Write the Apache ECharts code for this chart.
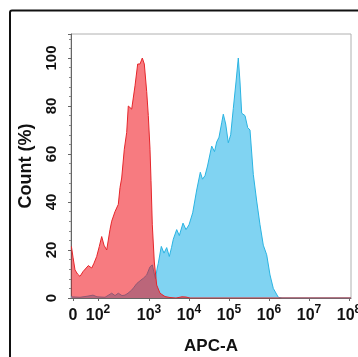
<!DOCTYPE html>
<html>
<head>
<meta charset="utf-8">
<style>
  html, body { margin: 0; padding: 0; background: #fff; }
  #chart { width: 358px; height: 357px; }
</style>
<script src="https://cdn.jsdelivr.net/npm/echarts@6/dist/echarts.min.js"></script>
</head>
<body>
<div id="chart"></div>
<script>
// x is in display units: decade positions (3 = 10^3 ... 8 = 10^8), low end is compressed
var xTickPos = [1.1, 1.725, 3, 4, 5, 6, 7, 8];
var xTickText = ['0', '10^2', '10^3', '10^4', '10^5', '10^6', '10^7', '10^8'];
var yTicks = [0, 20, 40, 60, 80, 100];

// control (red)
var ctrlX = [1.06, 1.10, 1.15, 1.2125, 1.275, 1.35, 1.40, 1.4825, 1.5675, 1.625, 1.6925, 1.7575, 1.8175, 1.875, 1.9425,
  2.025, 2.0675, 2.15, 2.2325, 2.275, 2.3175, 2.3825, 2.4425, 2.4825, 2.525, 2.5675, 2.65, 2.7175, 2.775, 2.8325,
  2.8825, 2.9425, 2.9825, 3.025, 3.05, 3.0825, 3.1325, 3.1925, 3.275, 3.40, 3.525, 3.675, 3.825, 3.925, 4.025, 8.05];
var ctrlY = [21.5, 17, 11.7, 10, 9, 11, 11.7, 13.5, 12.5, 14.5, 17.3, 21.5, 25.6, 22, 20,
  28.5, 32, 36, 39, 46, 50, 62, 69, 80, 80.7, 78.7, 88.4, 97.5, 97.5, 100,
  97.5, 86, 76, 62, 49, 30.5, 15, 5.4, 2, 0.6, 0.2, 0, 0.5, 0.4, 0, 0];

// stained sample (blue)
var sampX = [1.05, 1.275, 1.475, 1.60, 1.70, 1.90, 2.0675, 2.15, 2.2325, 2.325, 2.40, 2.475, 2.5675, 2.625, 2.6925,
  2.7375, 2.80, 2.8575, 2.9425, 3.025, 3.0825, 3.1325, 3.1625, 3.20, 3.2325, 3.3075, 3.375, 3.4425, 3.5075, 3.5625,
  3.6075, 3.6925, 3.7575, 3.85, 3.925, 4.00, 4.0925, 4.1925, 4.2825, 4.3375, 4.40, 4.4625, 4.5675, 4.6375, 4.6925,
  4.75, 4.8175, 4.8575, 4.9175, 4.9825, 5.0425, 5.1075, 5.175, 5.2325, 5.275, 5.3175, 5.40, 5.4675, 5.525, 5.6075,
  5.6925, 5.775, 5.8575, 5.9425, 6.025, 6.1075, 6.2325, 6.325, 8.05];
var sampY = [0.5, 0.3, 0.8, 1.2, 0.5, 0.3, 2, 1, 2, 1, 1.2, 2, 3.3, 4.5, 6,
  5.5, 7.5, 8.2, 9.6, 13, 13.8, 10, 8, 12, 14.5, 21.5, 18.7, 21, 17.3, 21,
  24.5, 28.5, 26, 31.2, 28.5, 30.5, 35.5, 45, 52.4, 49.5, 51, 55, 63.3, 61, 65,
  67, 73, 76.6, 72.5, 64.7, 68, 79, 90, 100, 90, 77, 76, 71, 70, 51.5,
  40.4, 30.5, 22, 18, 9.6, 4, 0.3, 0, 0];

function pairs(xs, ys) {
  return xs.map(function (x, i) { return [x, ys[i]]; });
}

var dom = document.getElementById('chart');
var myChart = echarts.init(dom, null, { renderer: 'canvas' });

var option = {
  animation: false,
  textStyle: { fontFamily: 'Liberation Sans, Arial, sans-serif' },
  grid: {
    left: 71, right: 7, top: 34, bottom: 59,
    outerBoundsMode: 'none',
    containLabel: false,
    show: true, borderColor: '#b0b0b0', borderWidth: 1
  },
  graphic: [{
    type: 'rect',
    shape: { x: 10, y: 10.5, width: 400, height: 400, r: 2 },
    style: { fill: null, stroke: '#111', lineWidth: 2 },
    silent: true
  }],
  xAxis: {
    type: 'value',
    min: 1.05,
    max: 8.05,
    name: 'APC-A',
    nameLocation: 'middle',
    nameGap: 40,
    nameTextStyle: { fontWeight: 'bold', fontSize: 17, color: '#111' },
    axisLine: { lineStyle: { color: '#666' } },
    splitLine: { show: false },
    axisTick: { customValues: xTickPos, length: 3, lineStyle: { color: '#666' } },
    axisLabel: {
      customValues: xTickPos,
      margin: 6,
      formatter: function (v) {
        var i = xTickPos.indexOf(v);
        var s = i >= 0 ? xTickText[i] : '';
        if (s.indexOf('^') > 0) {
          var p = s.split('^');
          return '{b|' + p[0] + '}{s|' + p[1] + '}';
        }
        return '{b|' + s + '}';
      },
      rich: {
        b: { fontSize: 16, fontWeight: 'bold', color: '#111', verticalAlign: 'bottom', lineHeight: 20 },
        s: { fontSize: 12, fontWeight: 'bold', color: '#111', verticalAlign: 'top', lineHeight: 20 }
      }
    }
  },
  yAxis: {
    type: 'value',
    min: 0,
    max: 110,
    interval: 20,
    name: 'Count (%)',
    nameLocation: 'middle',
    nameRotate: 90,
    nameGap: 36,
    nameTextStyle: { fontWeight: 'bold', fontSize: 18, color: '#111' },
    axisLine: { show: true, lineStyle: { color: '#666' } },
    splitLine: { show: false },
    axisTick: { show: true, length: 3, lineStyle: { color: '#666' } },
    minorTick: { show: true, splitNumber: 5, length: 2, lineStyle: { color: '#888' } },
    axisLabel: {
      customValues: yTicks,
      rotate: 90,
      margin: 12,
      fontSize: 15,
      fontWeight: 'bold',
      color: '#111'
    }
  },
  series: [
    {
      name: 'sample',
      type: 'line',
      data: pairs(sampX, sampY),
      showSymbol: false,
      lineStyle: { color: '#2bb4e2', width: 1 },
      areaStyle: { color: '#80d3f2', opacity: 1 },
      z: 2
    },
    {
      name: 'control',
      type: 'line',
      data: pairs(ctrlX, ctrlY),
      showSymbol: false,
      lineStyle: { color: '#e5262b', width: 1 },
      areaStyle: { color: 'rgba(240,5,15,0.53)', opacity: 1 },
      z: 3
    }
  ]
};

myChart.setOption(option);
window.addEventListener('resize', myChart.resize);
</script>
</body>
</html>
